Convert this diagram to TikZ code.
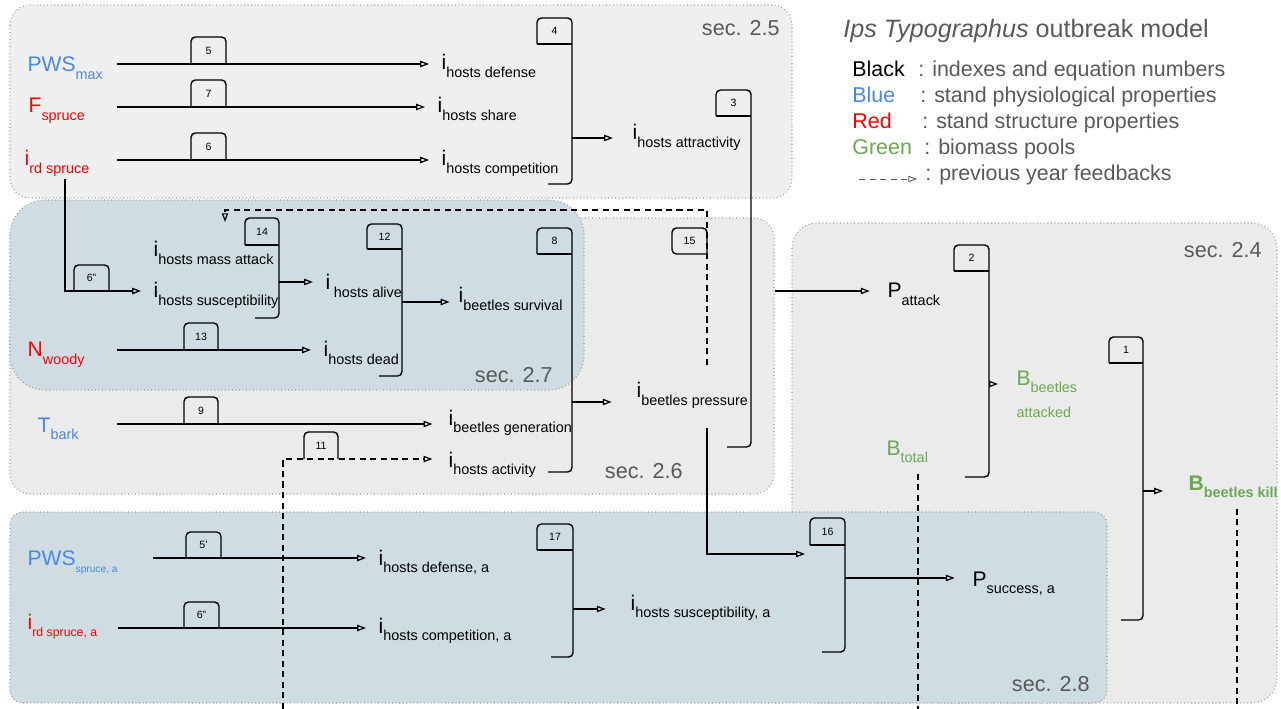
\documentclass[tikz,border=0pt]{standalone}
\usepackage{fontspec}
\setmainfont{Liberation Sans}
\usetikzlibrary{arrows.meta}

\definecolor{physblue}{HTML}{4A86E8}
\definecolor{structred}{HTML}{FF0000}
\definecolor{poolgreen}{HTML}{6AA84F}
\definecolor{secgray}{HTML}{EFEFEF}
\definecolor{secgrayb}{HTML}{EBEBEB}
\definecolor{secblue}{HTML}{CFDCE1}
\definecolor{notegray}{HTML}{595959}

\newcommand{\ivar}[3][8.2]{{\fontsize{12}{14}\selectfont #2}\raisebox{-4.3pt}{\fontsize{#1}{10}\selectfont #3}}

\begin{document}
\begin{tikzpicture}[x=0.02cm, y=-0.02cm,
        sec/.style={draw=gray!80, dash pattern=on 0.5pt off 1.5pt, line width=0.6pt, rounded corners=0.4cm},
        seclbl/.style={anchor=base east, inner sep=0, text=notegray, font=\fontsize{12.3}{14}\selectfont},
        lbl/.style={anchor=base west, inner xsep=7pt, inner ysep=1pt},
        legtxt/.style={anchor=base west, inner sep=0, font=\fontsize{12.2}{14}\selectfont},
        conn/.style={line width=0.7pt},
        arr/.style={conn, -{Triangle[open, length=5pt, width=3.6pt]}},
        dashline/.style={conn, dash pattern=on 3.5pt off 2.5pt},
        fb/.style={dashline, -{Triangle[open, length=5pt, width=3.6pt]}},
        tabline/.style={line width=0.8pt, rounded corners=2.5pt},
        bar/.style={line width=0.8pt},
        eqnum/.style={inner sep=0, font=\fontsize{6}{7}\selectfont}]
            \useasboundingbox (0,0) rectangle (1281,709);

            % sections
            \draw[sec, fill=secgray] (10,5) rectangle (792,198);
            \draw[sec, fill=secgrayb] (10,218) rectangle (774,494);
            \draw[sec, fill=secgrayb, rounded corners=0.5cm] (792,223) rectangle (1277,703);
            \draw[sec, fill=secblue, rounded corners=0.7cm] (10,200) rectangle (584,390);
            \draw[sec, fill=secblue, rounded corners=0.25cm] (10,512) rectangle (1107,703);
            \node[seclbl] (s25) at (780,36) {sec. 2.5};
            \node[seclbl] (s26) at (683,478) {sec. 2.6};
            \node[seclbl] (s27) at (553,382) {sec. 2.7};
            \node[seclbl] (s24) at (1262,258) {sec. 2.4};
            \node[seclbl] (s28) at (1090,691) {sec. 2.8};

            % legend
            \node[legtxt, font=\fontsize{14.3}{16}\selectfont, text=notegray] (title) at (843,38) {\textit{Ips Typographus} outbreak model};
            \node[legtxt] (kblack) at (852,77) {Black};
            \node[legtxt, text=notegray] (dblack) at (918,77) {: indexes and equation numbers};
            \node[legtxt, text=physblue] (kblue) at (852,103) {Blue};
            \node[legtxt, text=notegray] (dblue) at (920,103) {: stand physiological properties};
            \node[legtxt, text=structred] (kred) at (852,129) {Red};
            \node[legtxt, text=notegray] (dred) at (922,129) {: stand structure properties};
            \node[legtxt, text=poolgreen] (kgreen) at (852,155) {Green};
            \node[legtxt, text=notegray] (dgreen) at (924,155) {: biomass pools};
            \node[legtxt, text=notegray] (dfb) at (925,181) {: previous year feedbacks};
            \coordinate (kfb) at (859,179);
            \draw[fb, line width=0.5pt, draw=notegray, shorten >=4.5pt] (kfb) -- (kfb -| dfb.west);

            % sec 2.5
            \node[lbl, text=physblue] (pwsmax) at (15,72) {\ivar{PWS}{max}};
            \node[lbl, text=structred] (fspruce) at (16,113) {\ivar{F}{spruce}};
            \node[lbl, text=structred] (irdspruce) at (12,166) {\ivar{i}{rd spruce}};
            \node[lbl] (hdef) at (429,70) {\ivar{i}{hosts defense}};
            \node[lbl] (hshare) at (425,113) {\ivar{i}{hosts share}};
            \node[lbl] (hcomp) at (429,166) {\ivar{i}{hosts competition}};
            \node[lbl] (hattr) at (620,140) {\ivar{i}{hosts attractivity}};

            \coordinate (r5) at (117,64);
            \coordinate (r7) at (117,107);
            \coordinate (r6) at (117,160);
            \draw[arr] (r5) -- (r5 -| hdef.west);
            \draw[arr] (r7) -- (r7 -| hshare.west);
            \draw[arr] (r6) -- (r6 -| hcomp.west);
            \draw[tabline] (191,64) |- (208.5,37) -| (226,64);
            \node[eqnum] (eq5) at (208.5,51) {5};
            \draw[tabline] (191,107) |- (208.5,80) -| (226,107);
            \node[eqnum] (eq7) at (208.5,94) {7};
            \draw[tabline] (191,160) |- (208.5,133) -| (226,160);
            \node[eqnum] (eq6) at (208.5,147) {6};

            \draw[tabline] (537,44) |- (572,18) -- (572,184) -- (548,184);
            \draw[bar] (537,44) -- (572,44);
            \node[eqnum] (eq4) at (554.5,31) {4};
            \coordinate (b4) at (572,138);
            \draw[arr, shorten >=4pt] (b4) -- (b4 -| hattr.west);

            \draw[tabline] (716,116) |- (751,90) -- (751,447) -- (727,447);
            \draw[bar] (716,116) -- (751,116);
            \node[eqnum] (eq3) at (733.5,103) {3};
            \coordinate (b3) at (775,291);
            \node[lbl] (pattack) at (875,298) {\ivar{P}{attack}};
            \draw[arr, shorten >=3pt] (b3) -- (b3 -| pattack.west);

            % sec 2.7
            \node[lbl] (hmass) at (141,257) {\ivar{i}{hosts mass attack}};
            \node[lbl] (hsusc) at (141,298) {\ivar{i}{hosts susceptibility}};
            \coordinate (r6b) at (65,291);
            \draw[arr] (r6b |- irdspruce.south) -- (r6b) -- (r6b -| hsusc.west);
            \draw[tabline] (74,291) |- (91.5,265) -| (109,291);
            \node[eqnum] (eq6b) at (91.5,278) {6''};

            \draw[tabline] (245,245) |- (279,218) -- (279,318) -- (255,318);
            \draw[bar] (245,245) -- (279,245);
            \node[eqnum] (eq14) at (262,231.5) {14};
            \coordinate (b14) at (279,282);
            \node[lbl] (halive) at (313,290) {\ivar{i\kern2pt}{hosts alive}};
            \draw[arr] (b14) -- (b14 -| halive.west);

            \draw[tabline] (367,249) |- (402,224) -- (402,376) -- (379,376);
            \draw[bar] (367,249) -- (402,249);
            \node[eqnum] (eq12) at (384.5,236.5) {12};
            \coordinate (b12) at (402,302);
            \node[lbl] (bsurv) at (446,303) {\ivar{i}{beetles survival}};
            \draw[arr, shorten >=-2pt] (b12) -- (b12 -| bsurv.west);

            \node[lbl, text=structred] (nwoody) at (15,357) {\ivar{N}{woody}};
            \node[lbl] (hdead) at (311,357) {\ivar{i}{hosts dead}};
            \coordinate (r13) at (117,350);
            \draw[arr] (r13) -- (r13 -| hdead.west);
            \draw[tabline] (184,350) |- (201,323) -| (218,350);
            \node[eqnum] (eq13) at (201,336.5) {13};

            \draw[tabline] (537,254) |- (572,228) -- (572,472) -- (548,472);
            \draw[bar] (537,254) -- (572,254);
            \node[eqnum] (eq8) at (554.5,241) {8};
            \coordinate (b8) at (572,402);
            \node[lbl] (bpress) at (624,398) {\ivar{i}{beetles pressure}};
            \draw[arr, shorten >=7pt] (b8) -- (b8 -| bpress.west);

            % feedback 15
            \coordinate (c15) at (707,210);
            \coordinate (fbtop) at (225,210);
            \draw[fb, shorten <=9pt, shorten >=10pt] (bpress.north -| c15) -- (c15) -- (fbtop) -- (fbtop |- hmass.north);
            \draw[tabline] (707,254) -- (672,254) |- (707,228) -- (707,254);
            \node[eqnum] (eq15) at (689.5,241) {15};

            % sec 2.6
            \node[lbl, text=physblue] (tbark) at (25,432) {\ivar{T}{bark}};
            \node[lbl] (bgen) at (436,425) {\ivar{i}{beetles generation}};
            \coordinate (r9) at (117,424);
            \draw[arr, shorten >=2pt] (r9) -- (r9 -| bgen.west);
            \draw[tabline] (184,424) |- (201,397) -| (218,424);
            \node[eqnum] (eq9) at (201,410.5) {9};

            \node[lbl] (hact) at (436,467) {\ivar{i}{hosts activity}};
            \coordinate (r11) at (283,459);
            \coordinate (r11end) at (283,709);
            \draw[fb, shorten >=2pt] (r11end) -- (r11) -- (r11 -| hact.west);
            \draw[tabline] (304,459) |- (321,432) -| (338,459);
            \node[eqnum] (eq11) at (321,445.5) {11};

            \coordinate (c16) at (707,554);
            \coordinate (b16in) at (805,554);
            \draw[arr, shorten <=10pt] (bpress.south -| c16) -- (c16) -- (b16in);

            % sec 2.4
            \draw[tabline] (954,271) |- (989,245) -- (989,477) -- (965,477);
            \draw[bar] (954,271) -- (989,271);
            \node[eqnum] (eq2) at (971.5,258) {2};
            \coordinate (b2) at (989,384);
            \node[lbl, text=poolgreen] (batt) at (1004,385) {\ivar{B}{beetles}};
            \node[lbl, text=poolgreen, font=\fontsize{8.2}{10}\selectfont] (batt2) at (1004,418) {attacked};
            \draw[arr, shorten >=3.4pt] (b2) -- (b2 -| batt.west);

            \node[lbl, text=poolgreen] (btotal) at (874,455) {\ivar{B}{total}};
            \coordinate (bt) at (918,709);
            \draw[dashline, shorten <=5pt] (btotal.south -| bt) -- (bt);

            \draw[tabline] (1109,363) |- (1143,337) -- (1143,620) -- (1121,620);
            \draw[bar] (1109,363) -- (1143,363);
            \node[eqnum] (eq1) at (1126,350) {1};
            \coordinate (b1) at (1143,491);
            \node[lbl, text=poolgreen, font=\bfseries] (bkill) at (1176,490) {\ivar{B}{beetles kill}};
            \draw[arr, shorten >=7.4pt] (b1) -- (b1 -| bkill.west);
            \coordinate (bk) at (1237,709);
            \draw[dashline, shorten <=5pt] (bkill.south -| bk) -- (bk);

            % sec 2.8
            \node[lbl, text=physblue] (pwsa) at (15,565) {\ivar[5.8]{PWS}{spruce, a}};
            \node[lbl] (hdefa) at (366,565) {\ivar{i}{hosts defense, a}};
            \coordinate (r5a) at (153,558);
            \draw[arr] (r5a) -- (r5a -| hdefa.west);
            \draw[tabline] (186,558) |- (203.5,532) -| (221,558);
            \node[eqnum] (eq5a) at (203.5,545) {5'};

            \node[lbl, text=structred] (irda) at (15,629) {\ivar[7]{i}{rd spruce, a}};
            \node[lbl] (hcompa) at (366,633) {\ivar{i}{hosts competition, a}};
            \coordinate (r6a) at (118,628);
            \draw[arr] (r6a) -- (r6a -| hcompa.west);
            \draw[tabline] (184,628) |- (201.5,602) -| (219,628);
            \node[eqnum] (eq6a) at (201.5,615) {6''};

            \draw[tabline] (537,550) |- (573,524) -- (573,657) -- (551,657);
            \draw[bar] (537,550) -- (573,550);
            \node[eqnum] (eq17) at (555,537) {17};
            \coordinate (b17) at (573,609);
            \node[lbl] (hsusca) at (618,610) {\ivar{i}{hosts susceptibility, a}};
            \draw[arr, shorten >=7pt] (b17) -- (b17 -| hsusca.west);

            \draw[tabline] (810,545) |- (845,518) -- (845,652) -- (822,652);
            \draw[bar] (810,545) -- (845,545);
            \node[eqnum] (eq16) at (827.5,531.5) {16};
            \coordinate (b16) at (845,578);
            \node[lbl] (psucc) at (960,586) {\ivar{P}{success, a}};
            \draw[arr, shorten >=3pt] (b16) -- (b16 -| psucc.west);
\end{tikzpicture}
\end{document}
